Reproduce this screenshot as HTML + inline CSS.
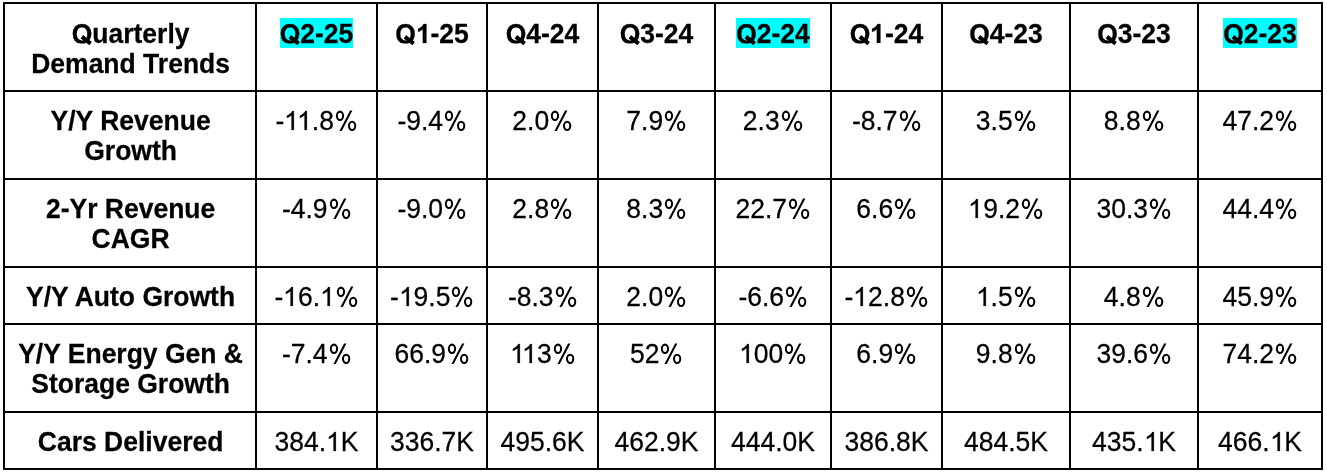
<!DOCTYPE html>
<html><head><meta charset="utf-8"><style>
html,body{margin:0;padding:0;background:#fff;}
body{width:1327px;height:475px;position:relative;overflow:hidden;}
.h{position:absolute;left:3px;width:1320px;height:2px;background:#000;}
.v{position:absolute;top:2px;width:2px;height:468px;background:#000;}
.t{position:absolute;text-align:center;font-family:"Liberation Sans",sans-serif;font-size:26.5px;line-height:30px;height:30px;color:#000;white-space:nowrap;transform:scaleY(1.0405);transform-origin:50% 24px;-webkit-text-stroke:0.25px #000;}
.b{font-weight:bold;}
.wrap{position:absolute;left:0;top:0;width:1327px;height:475px;will-change:transform;}
.hb{transform:none;color:transparent;-webkit-text-stroke:0;}
.hl{background:#00ffff;}
.o,.ob{display:inline-block;position:relative;color:transparent;-webkit-text-stroke:0;}
.ps path{fill:#000;stroke:#000;}
.k{margin-left:-1.967px;}
.kb{margin-left:-1.462px;}
.pc{display:inline-block;position:relative;color:transparent;-webkit-text-stroke:0;}
.ps{position:absolute;left:0;top:0;overflow:visible;}
.ps ellipse{fill:none;stroke:#000;stroke-width:2;}
.ps polygon{fill:#000;}
.q{display:inline-block;position:relative;}
.qi{display:inline-block;clip-path:polygon(-5px -5px,30px -5px,30px 24.6px,-5px 24.6px);}
.q::after{content:"";position:absolute;left:9.9px;top:15.9px;width:10.8px;height:3.6px;background:#000;transform:rotate(37deg);transform-origin:0 50%;}
</style></head><body>
<div class="h" style="top:2px"></div>
<div class="h" style="top:90px"></div>
<div class="h" style="top:178px"></div>
<div class="h" style="top:266px"></div>
<div class="h" style="top:323px"></div>
<div class="h" style="top:411px"></div>
<div class="h" style="top:468px"></div>
<div class="v" style="left:3px"></div>
<div class="v" style="left:255px"></div>
<div class="v" style="left:376px"></div>
<div class="v" style="left:486px"></div>
<div class="v" style="left:597px"></div>
<div class="v" style="left:714px"></div>
<div class="v" style="left:830px"></div>
<div class="v" style="left:941px"></div>
<div class="v" style="left:1069px"></div>
<div class="v" style="left:1197px"></div>
<div class="v" style="left:1321px"></div>
<div class="wrap">
<div class="t b" style="left:5.6px;width:250px;top:19px"><span class="q"><span class="qi">Q</span></span>uarterly</div>
<div class="t b" style="left:5.6px;width:250px;top:49px">Demand Trends</div>
<div class="t b hb" style="left:257px;width:119px;top:18px"><span class="hl">Q2-25</span></div>
<div class="t b" style="left:257px;width:119px;top:19px"><span class="q"><span class="qi">Q</span></span>2-25</div>
<div class="t b" style="left:378px;width:108px;top:19px"><span class="q"><span class="qi">Q</span></span><span class="ob">1<svg class="ps" width="15" height="30" viewBox="0 0 15 30"><g transform="translate(0 24) scale(0.012939 -0.012436)"><path d="M806 0H525V1059Q371 915 162 846V1101Q272 1137 401 1237Q530 1338 578 1466H806Z" stroke-width="19"/></g></svg></span>-25</div>
<div class="t b" style="left:488px;width:109px;top:19px"><span class="q"><span class="qi">Q</span></span>4-24</div>
<div class="t b" style="left:599px;width:115px;top:19px"><span class="q"><span class="qi">Q</span></span>3-24</div>
<div class="t b hb" style="left:716px;width:114px;top:18px"><span class="hl">Q2-24</span></div>
<div class="t b" style="left:716px;width:114px;top:19px"><span class="q"><span class="qi">Q</span></span>2-24</div>
<div class="t b" style="left:832px;width:109px;top:19px"><span class="q"><span class="qi">Q</span></span><span class="ob">1<svg class="ps" width="15" height="30" viewBox="0 0 15 30"><g transform="translate(0 24) scale(0.012939 -0.012436)"><path d="M806 0H525V1059Q371 915 162 846V1101Q272 1137 401 1237Q530 1338 578 1466H806Z" stroke-width="19"/></g></svg></span>-24</div>
<div class="t b" style="left:943px;width:126px;top:19px"><span class="q"><span class="qi">Q</span></span>4-23</div>
<div class="t b" style="left:1071px;width:126px;top:19px"><span class="q"><span class="qi">Q</span></span>3-23</div>
<div class="t b hb" style="left:1199px;width:122px;top:18px"><span class="hl">Q2-23</span></div>
<div class="t b" style="left:1199px;width:122px;top:19px"><span class="q"><span class="qi">Q</span></span>2-23</div>
<div class="t b" style="left:5.6px;width:250px;top:106px">Y/Y Revenue</div>
<div class="t b" style="left:5.6px;width:250px;top:136px">Growth</div>
<div class="t" style="left:257px;width:119px;top:106px">-<span class="o">1<svg class="ps" width="15" height="30" viewBox="0 0 15 30"><g transform="translate(0 24) scale(0.012939 -0.012436)"><path d="M763 0H583V1147Q518 1085 412 1023Q307 961 223 930V1104Q374 1175 487 1276Q600 1377 647 1472H763Z" stroke-width="19"/></g></svg></span><span class="o k">1<svg class="ps" width="15" height="30" viewBox="0 0 15 30"><g transform="translate(0 24) scale(0.012939 -0.012436)"><path d="M763 0H583V1147Q518 1085 412 1023Q307 961 223 930V1104Q374 1175 487 1276Q600 1377 647 1472H763Z" stroke-width="19"/></g></svg></span>.8<span class="pc">%<svg class="ps" width="24" height="30" viewBox="0 0 24 30"><ellipse cx="5.97" cy="10.34" rx="3.15" ry="4.02"/><ellipse cx="18.14" cy="20.03" rx="3.14" ry="4.02"/><polygon points="5.45,24.97 7.75,24.97 18.4,5.28 16.1,5.28"/></svg></span></div>
<div class="t" style="left:378px;width:108px;top:106px">-9.4<span class="pc">%<svg class="ps" width="24" height="30" viewBox="0 0 24 30"><ellipse cx="5.97" cy="10.34" rx="3.15" ry="4.02"/><ellipse cx="18.14" cy="20.03" rx="3.14" ry="4.02"/><polygon points="5.45,24.97 7.75,24.97 18.4,5.28 16.1,5.28"/></svg></span></div>
<div class="t" style="left:488px;width:109px;top:106px">2.0<span class="pc">%<svg class="ps" width="24" height="30" viewBox="0 0 24 30"><ellipse cx="5.97" cy="10.34" rx="3.15" ry="4.02"/><ellipse cx="18.14" cy="20.03" rx="3.14" ry="4.02"/><polygon points="5.45,24.97 7.75,24.97 18.4,5.28 16.1,5.28"/></svg></span></div>
<div class="t" style="left:599px;width:115px;top:106px">7.9<span class="pc">%<svg class="ps" width="24" height="30" viewBox="0 0 24 30"><ellipse cx="5.97" cy="10.34" rx="3.15" ry="4.02"/><ellipse cx="18.14" cy="20.03" rx="3.14" ry="4.02"/><polygon points="5.45,24.97 7.75,24.97 18.4,5.28 16.1,5.28"/></svg></span></div>
<div class="t" style="left:716px;width:114px;top:106px">2.3<span class="pc">%<svg class="ps" width="24" height="30" viewBox="0 0 24 30"><ellipse cx="5.97" cy="10.34" rx="3.15" ry="4.02"/><ellipse cx="18.14" cy="20.03" rx="3.14" ry="4.02"/><polygon points="5.45,24.97 7.75,24.97 18.4,5.28 16.1,5.28"/></svg></span></div>
<div class="t" style="left:832px;width:109px;top:106px">-8.7<span class="pc">%<svg class="ps" width="24" height="30" viewBox="0 0 24 30"><ellipse cx="5.97" cy="10.34" rx="3.15" ry="4.02"/><ellipse cx="18.14" cy="20.03" rx="3.14" ry="4.02"/><polygon points="5.45,24.97 7.75,24.97 18.4,5.28 16.1,5.28"/></svg></span></div>
<div class="t" style="left:943px;width:126px;top:106px">3.5<span class="pc">%<svg class="ps" width="24" height="30" viewBox="0 0 24 30"><ellipse cx="5.97" cy="10.34" rx="3.15" ry="4.02"/><ellipse cx="18.14" cy="20.03" rx="3.14" ry="4.02"/><polygon points="5.45,24.97 7.75,24.97 18.4,5.28 16.1,5.28"/></svg></span></div>
<div class="t" style="left:1071px;width:126px;top:106px">8.8<span class="pc">%<svg class="ps" width="24" height="30" viewBox="0 0 24 30"><ellipse cx="5.97" cy="10.34" rx="3.15" ry="4.02"/><ellipse cx="18.14" cy="20.03" rx="3.14" ry="4.02"/><polygon points="5.45,24.97 7.75,24.97 18.4,5.28 16.1,5.28"/></svg></span></div>
<div class="t" style="left:1199px;width:122px;top:106px">47.2<span class="pc">%<svg class="ps" width="24" height="30" viewBox="0 0 24 30"><ellipse cx="5.97" cy="10.34" rx="3.15" ry="4.02"/><ellipse cx="18.14" cy="20.03" rx="3.14" ry="4.02"/><polygon points="5.45,24.97 7.75,24.97 18.4,5.28 16.1,5.28"/></svg></span></div>
<div class="t b" style="left:5.6px;width:250px;top:194px">2-Yr Revenue</div>
<div class="t b" style="left:5.6px;width:250px;top:224px">CAGR</div>
<div class="t" style="left:257px;width:119px;top:194px">-4.9<span class="pc">%<svg class="ps" width="24" height="30" viewBox="0 0 24 30"><ellipse cx="5.97" cy="10.34" rx="3.15" ry="4.02"/><ellipse cx="18.14" cy="20.03" rx="3.14" ry="4.02"/><polygon points="5.45,24.97 7.75,24.97 18.4,5.28 16.1,5.28"/></svg></span></div>
<div class="t" style="left:378px;width:108px;top:194px">-9.0<span class="pc">%<svg class="ps" width="24" height="30" viewBox="0 0 24 30"><ellipse cx="5.97" cy="10.34" rx="3.15" ry="4.02"/><ellipse cx="18.14" cy="20.03" rx="3.14" ry="4.02"/><polygon points="5.45,24.97 7.75,24.97 18.4,5.28 16.1,5.28"/></svg></span></div>
<div class="t" style="left:488px;width:109px;top:194px">2.8<span class="pc">%<svg class="ps" width="24" height="30" viewBox="0 0 24 30"><ellipse cx="5.97" cy="10.34" rx="3.15" ry="4.02"/><ellipse cx="18.14" cy="20.03" rx="3.14" ry="4.02"/><polygon points="5.45,24.97 7.75,24.97 18.4,5.28 16.1,5.28"/></svg></span></div>
<div class="t" style="left:599px;width:115px;top:194px">8.3<span class="pc">%<svg class="ps" width="24" height="30" viewBox="0 0 24 30"><ellipse cx="5.97" cy="10.34" rx="3.15" ry="4.02"/><ellipse cx="18.14" cy="20.03" rx="3.14" ry="4.02"/><polygon points="5.45,24.97 7.75,24.97 18.4,5.28 16.1,5.28"/></svg></span></div>
<div class="t" style="left:716px;width:114px;top:194px">22.7<span class="pc">%<svg class="ps" width="24" height="30" viewBox="0 0 24 30"><ellipse cx="5.97" cy="10.34" rx="3.15" ry="4.02"/><ellipse cx="18.14" cy="20.03" rx="3.14" ry="4.02"/><polygon points="5.45,24.97 7.75,24.97 18.4,5.28 16.1,5.28"/></svg></span></div>
<div class="t" style="left:832px;width:109px;top:194px">6.6<span class="pc">%<svg class="ps" width="24" height="30" viewBox="0 0 24 30"><ellipse cx="5.97" cy="10.34" rx="3.15" ry="4.02"/><ellipse cx="18.14" cy="20.03" rx="3.14" ry="4.02"/><polygon points="5.45,24.97 7.75,24.97 18.4,5.28 16.1,5.28"/></svg></span></div>
<div class="t" style="left:943px;width:126px;top:194px"><span class="o">1<svg class="ps" width="15" height="30" viewBox="0 0 15 30"><g transform="translate(0 24) scale(0.012939 -0.012436)"><path d="M763 0H583V1147Q518 1085 412 1023Q307 961 223 930V1104Q374 1175 487 1276Q600 1377 647 1472H763Z" stroke-width="19"/></g></svg></span>9.2<span class="pc">%<svg class="ps" width="24" height="30" viewBox="0 0 24 30"><ellipse cx="5.97" cy="10.34" rx="3.15" ry="4.02"/><ellipse cx="18.14" cy="20.03" rx="3.14" ry="4.02"/><polygon points="5.45,24.97 7.75,24.97 18.4,5.28 16.1,5.28"/></svg></span></div>
<div class="t" style="left:1071px;width:126px;top:194px">30.3<span class="pc">%<svg class="ps" width="24" height="30" viewBox="0 0 24 30"><ellipse cx="5.97" cy="10.34" rx="3.15" ry="4.02"/><ellipse cx="18.14" cy="20.03" rx="3.14" ry="4.02"/><polygon points="5.45,24.97 7.75,24.97 18.4,5.28 16.1,5.28"/></svg></span></div>
<div class="t" style="left:1199px;width:122px;top:194px">44.4<span class="pc">%<svg class="ps" width="24" height="30" viewBox="0 0 24 30"><ellipse cx="5.97" cy="10.34" rx="3.15" ry="4.02"/><ellipse cx="18.14" cy="20.03" rx="3.14" ry="4.02"/><polygon points="5.45,24.97 7.75,24.97 18.4,5.28 16.1,5.28"/></svg></span></div>
<div class="t b" style="left:5.6px;width:250px;top:282px">Y/Y Auto Growth</div>
<div class="t" style="left:257px;width:119px;top:282px">-<span class="o">1<svg class="ps" width="15" height="30" viewBox="0 0 15 30"><g transform="translate(0 24) scale(0.012939 -0.012436)"><path d="M763 0H583V1147Q518 1085 412 1023Q307 961 223 930V1104Q374 1175 487 1276Q600 1377 647 1472H763Z" stroke-width="19"/></g></svg></span>6.<span class="o">1<svg class="ps" width="15" height="30" viewBox="0 0 15 30"><g transform="translate(0 24) scale(0.012939 -0.012436)"><path d="M763 0H583V1147Q518 1085 412 1023Q307 961 223 930V1104Q374 1175 487 1276Q600 1377 647 1472H763Z" stroke-width="19"/></g></svg></span><span class="pc">%<svg class="ps" width="24" height="30" viewBox="0 0 24 30"><ellipse cx="5.97" cy="10.34" rx="3.15" ry="4.02"/><ellipse cx="18.14" cy="20.03" rx="3.14" ry="4.02"/><polygon points="5.45,24.97 7.75,24.97 18.4,5.28 16.1,5.28"/></svg></span></div>
<div class="t" style="left:378px;width:108px;top:282px">-<span class="o">1<svg class="ps" width="15" height="30" viewBox="0 0 15 30"><g transform="translate(0 24) scale(0.012939 -0.012436)"><path d="M763 0H583V1147Q518 1085 412 1023Q307 961 223 930V1104Q374 1175 487 1276Q600 1377 647 1472H763Z" stroke-width="19"/></g></svg></span>9.5<span class="pc">%<svg class="ps" width="24" height="30" viewBox="0 0 24 30"><ellipse cx="5.97" cy="10.34" rx="3.15" ry="4.02"/><ellipse cx="18.14" cy="20.03" rx="3.14" ry="4.02"/><polygon points="5.45,24.97 7.75,24.97 18.4,5.28 16.1,5.28"/></svg></span></div>
<div class="t" style="left:488px;width:109px;top:282px">-8.3<span class="pc">%<svg class="ps" width="24" height="30" viewBox="0 0 24 30"><ellipse cx="5.97" cy="10.34" rx="3.15" ry="4.02"/><ellipse cx="18.14" cy="20.03" rx="3.14" ry="4.02"/><polygon points="5.45,24.97 7.75,24.97 18.4,5.28 16.1,5.28"/></svg></span></div>
<div class="t" style="left:599px;width:115px;top:282px">2.0<span class="pc">%<svg class="ps" width="24" height="30" viewBox="0 0 24 30"><ellipse cx="5.97" cy="10.34" rx="3.15" ry="4.02"/><ellipse cx="18.14" cy="20.03" rx="3.14" ry="4.02"/><polygon points="5.45,24.97 7.75,24.97 18.4,5.28 16.1,5.28"/></svg></span></div>
<div class="t" style="left:716px;width:114px;top:282px">-6.6<span class="pc">%<svg class="ps" width="24" height="30" viewBox="0 0 24 30"><ellipse cx="5.97" cy="10.34" rx="3.15" ry="4.02"/><ellipse cx="18.14" cy="20.03" rx="3.14" ry="4.02"/><polygon points="5.45,24.97 7.75,24.97 18.4,5.28 16.1,5.28"/></svg></span></div>
<div class="t" style="left:832px;width:109px;top:282px">-<span class="o">1<svg class="ps" width="15" height="30" viewBox="0 0 15 30"><g transform="translate(0 24) scale(0.012939 -0.012436)"><path d="M763 0H583V1147Q518 1085 412 1023Q307 961 223 930V1104Q374 1175 487 1276Q600 1377 647 1472H763Z" stroke-width="19"/></g></svg></span>2.8<span class="pc">%<svg class="ps" width="24" height="30" viewBox="0 0 24 30"><ellipse cx="5.97" cy="10.34" rx="3.15" ry="4.02"/><ellipse cx="18.14" cy="20.03" rx="3.14" ry="4.02"/><polygon points="5.45,24.97 7.75,24.97 18.4,5.28 16.1,5.28"/></svg></span></div>
<div class="t" style="left:943px;width:126px;top:282px"><span class="o">1<svg class="ps" width="15" height="30" viewBox="0 0 15 30"><g transform="translate(0 24) scale(0.012939 -0.012436)"><path d="M763 0H583V1147Q518 1085 412 1023Q307 961 223 930V1104Q374 1175 487 1276Q600 1377 647 1472H763Z" stroke-width="19"/></g></svg></span>.5<span class="pc">%<svg class="ps" width="24" height="30" viewBox="0 0 24 30"><ellipse cx="5.97" cy="10.34" rx="3.15" ry="4.02"/><ellipse cx="18.14" cy="20.03" rx="3.14" ry="4.02"/><polygon points="5.45,24.97 7.75,24.97 18.4,5.28 16.1,5.28"/></svg></span></div>
<div class="t" style="left:1071px;width:126px;top:282px">4.8<span class="pc">%<svg class="ps" width="24" height="30" viewBox="0 0 24 30"><ellipse cx="5.97" cy="10.34" rx="3.15" ry="4.02"/><ellipse cx="18.14" cy="20.03" rx="3.14" ry="4.02"/><polygon points="5.45,24.97 7.75,24.97 18.4,5.28 16.1,5.28"/></svg></span></div>
<div class="t" style="left:1199px;width:122px;top:282px">45.9<span class="pc">%<svg class="ps" width="24" height="30" viewBox="0 0 24 30"><ellipse cx="5.97" cy="10.34" rx="3.15" ry="4.02"/><ellipse cx="18.14" cy="20.03" rx="3.14" ry="4.02"/><polygon points="5.45,24.97 7.75,24.97 18.4,5.28 16.1,5.28"/></svg></span></div>
<div class="t b" style="left:5.6px;width:250px;top:339px">Y/Y Energy Gen &amp;</div>
<div class="t b" style="left:5.6px;width:250px;top:369px">Storage Growth</div>
<div class="t" style="left:257px;width:119px;top:339px">-7.4<span class="pc">%<svg class="ps" width="24" height="30" viewBox="0 0 24 30"><ellipse cx="5.97" cy="10.34" rx="3.15" ry="4.02"/><ellipse cx="18.14" cy="20.03" rx="3.14" ry="4.02"/><polygon points="5.45,24.97 7.75,24.97 18.4,5.28 16.1,5.28"/></svg></span></div>
<div class="t" style="left:378px;width:108px;top:339px">66.9<span class="pc">%<svg class="ps" width="24" height="30" viewBox="0 0 24 30"><ellipse cx="5.97" cy="10.34" rx="3.15" ry="4.02"/><ellipse cx="18.14" cy="20.03" rx="3.14" ry="4.02"/><polygon points="5.45,24.97 7.75,24.97 18.4,5.28 16.1,5.28"/></svg></span></div>
<div class="t" style="left:488px;width:109px;top:339px"><span class="o">1<svg class="ps" width="15" height="30" viewBox="0 0 15 30"><g transform="translate(0 24) scale(0.012939 -0.012436)"><path d="M763 0H583V1147Q518 1085 412 1023Q307 961 223 930V1104Q374 1175 487 1276Q600 1377 647 1472H763Z" stroke-width="19"/></g></svg></span><span class="o k">1<svg class="ps" width="15" height="30" viewBox="0 0 15 30"><g transform="translate(0 24) scale(0.012939 -0.012436)"><path d="M763 0H583V1147Q518 1085 412 1023Q307 961 223 930V1104Q374 1175 487 1276Q600 1377 647 1472H763Z" stroke-width="19"/></g></svg></span>3<span class="pc">%<svg class="ps" width="24" height="30" viewBox="0 0 24 30"><ellipse cx="5.97" cy="10.34" rx="3.15" ry="4.02"/><ellipse cx="18.14" cy="20.03" rx="3.14" ry="4.02"/><polygon points="5.45,24.97 7.75,24.97 18.4,5.28 16.1,5.28"/></svg></span></div>
<div class="t" style="left:599px;width:115px;top:339px">52<span class="pc">%<svg class="ps" width="24" height="30" viewBox="0 0 24 30"><ellipse cx="5.97" cy="10.34" rx="3.15" ry="4.02"/><ellipse cx="18.14" cy="20.03" rx="3.14" ry="4.02"/><polygon points="5.45,24.97 7.75,24.97 18.4,5.28 16.1,5.28"/></svg></span></div>
<div class="t" style="left:716px;width:114px;top:339px"><span class="o">1<svg class="ps" width="15" height="30" viewBox="0 0 15 30"><g transform="translate(0 24) scale(0.012939 -0.012436)"><path d="M763 0H583V1147Q518 1085 412 1023Q307 961 223 930V1104Q374 1175 487 1276Q600 1377 647 1472H763Z" stroke-width="19"/></g></svg></span>00<span class="pc">%<svg class="ps" width="24" height="30" viewBox="0 0 24 30"><ellipse cx="5.97" cy="10.34" rx="3.15" ry="4.02"/><ellipse cx="18.14" cy="20.03" rx="3.14" ry="4.02"/><polygon points="5.45,24.97 7.75,24.97 18.4,5.28 16.1,5.28"/></svg></span></div>
<div class="t" style="left:832px;width:109px;top:339px">6.9<span class="pc">%<svg class="ps" width="24" height="30" viewBox="0 0 24 30"><ellipse cx="5.97" cy="10.34" rx="3.15" ry="4.02"/><ellipse cx="18.14" cy="20.03" rx="3.14" ry="4.02"/><polygon points="5.45,24.97 7.75,24.97 18.4,5.28 16.1,5.28"/></svg></span></div>
<div class="t" style="left:943px;width:126px;top:339px">9.8<span class="pc">%<svg class="ps" width="24" height="30" viewBox="0 0 24 30"><ellipse cx="5.97" cy="10.34" rx="3.15" ry="4.02"/><ellipse cx="18.14" cy="20.03" rx="3.14" ry="4.02"/><polygon points="5.45,24.97 7.75,24.97 18.4,5.28 16.1,5.28"/></svg></span></div>
<div class="t" style="left:1071px;width:126px;top:339px">39.6<span class="pc">%<svg class="ps" width="24" height="30" viewBox="0 0 24 30"><ellipse cx="5.97" cy="10.34" rx="3.15" ry="4.02"/><ellipse cx="18.14" cy="20.03" rx="3.14" ry="4.02"/><polygon points="5.45,24.97 7.75,24.97 18.4,5.28 16.1,5.28"/></svg></span></div>
<div class="t" style="left:1199px;width:122px;top:339px">74.2<span class="pc">%<svg class="ps" width="24" height="30" viewBox="0 0 24 30"><ellipse cx="5.97" cy="10.34" rx="3.15" ry="4.02"/><ellipse cx="18.14" cy="20.03" rx="3.14" ry="4.02"/><polygon points="5.45,24.97 7.75,24.97 18.4,5.28 16.1,5.28"/></svg></span></div>
<div class="t b" style="left:5.6px;width:250px;top:427px">Cars Delivered</div>
<div class="t" style="left:257px;width:119px;top:427px">384.<span class="o">1<svg class="ps" width="15" height="30" viewBox="0 0 15 30"><g transform="translate(0 24) scale(0.012939 -0.012436)"><path d="M763 0H583V1147Q518 1085 412 1023Q307 961 223 930V1104Q374 1175 487 1276Q600 1377 647 1472H763Z" stroke-width="19"/></g></svg></span>K</div>
<div class="t" style="left:378px;width:108px;top:427px">336.7K</div>
<div class="t" style="left:488px;width:109px;top:427px">495.6K</div>
<div class="t" style="left:599px;width:115px;top:427px">462.9K</div>
<div class="t" style="left:716px;width:114px;top:427px">444.0K</div>
<div class="t" style="left:832px;width:109px;top:427px">386.8K</div>
<div class="t" style="left:943px;width:126px;top:427px">484.5K</div>
<div class="t" style="left:1071px;width:126px;top:427px">435.<span class="o">1<svg class="ps" width="15" height="30" viewBox="0 0 15 30"><g transform="translate(0 24) scale(0.012939 -0.012436)"><path d="M763 0H583V1147Q518 1085 412 1023Q307 961 223 930V1104Q374 1175 487 1276Q600 1377 647 1472H763Z" stroke-width="19"/></g></svg></span>K</div>
<div class="t" style="left:1199px;width:122px;top:427px">466.<span class="o">1<svg class="ps" width="15" height="30" viewBox="0 0 15 30"><g transform="translate(0 24) scale(0.012939 -0.012436)"><path d="M763 0H583V1147Q518 1085 412 1023Q307 961 223 930V1104Q374 1175 487 1276Q600 1377 647 1472H763Z" stroke-width="19"/></g></svg></span>K</div>
</div>
</body></html>
